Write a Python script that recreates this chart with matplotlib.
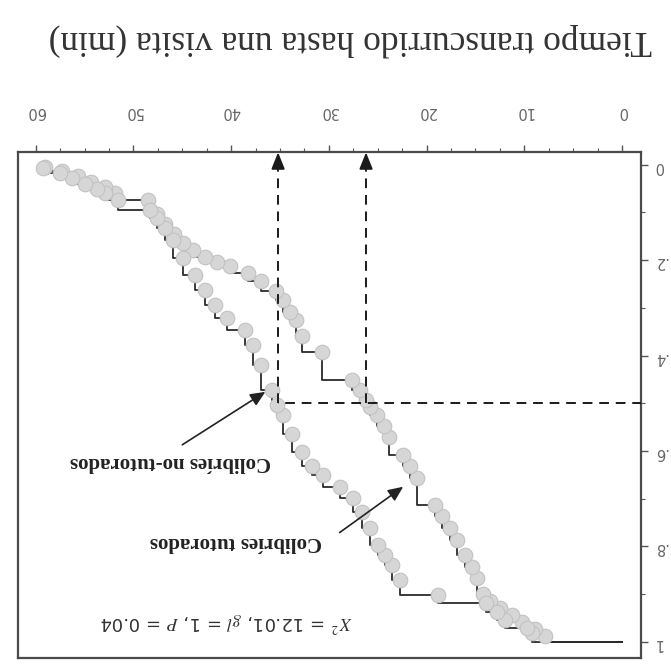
import matplotlib.pyplot as plt
from matplotlib.ticker import MultipleLocator

# Tiempo hasta la primera visita (min) y proporción que aún no visita
t_tut = [7.9, 8.9, 10.2, 11.3, 12.5, 13.5, 14.2, 14.8, 15.4, 16.1, 16.9, 17.6,
         18.4, 19.1, 21.0, 21.7, 22.4, 23.8, 24.4, 25.1, 25.8, 26.2, 26.8, 27.6,
         30.7, 32.8, 33.4, 34.0, 34.7, 35.4, 36.9, 38.3, 40.1, 41.5, 42.7, 43.9,
         44.9, 45.8, 46.8, 47.6, 48.5, 51.9, 52.9, 54.3, 55.7, 57.3, 59.1]
s_tut = [0.987, 0.973, 0.958, 0.943, 0.929, 0.914, 0.899, 0.866, 0.843, 0.818,
         0.786, 0.761, 0.736, 0.713, 0.656, 0.631, 0.608, 0.570, 0.547, 0.524,
         0.508, 0.493, 0.472, 0.451, 0.392, 0.358, 0.325, 0.308, 0.283, 0.264,
         0.243, 0.226, 0.212, 0.203, 0.193, 0.178, 0.164, 0.145, 0.124, 0.103,
         0.073, 0.059, 0.046, 0.036, 0.023, 0.013, 0.004]

t_no = [9.2, 9.7, 12.0, 12.8, 13.9, 18.8, 22.7, 23.5, 24.3, 25.0, 25.8, 26.6,
        27.5, 28.9, 30.6, 31.7, 32.8, 33.8, 34.7, 35.3, 35.8, 36.9, 37.8, 38.6,
        40.4, 41.7, 42.7, 43.7, 44.9, 46.0, 46.8, 47.6, 48.3, 51.6, 52.9, 53.7,
        55.0, 56.3, 57.5, 59.3]
s_no = [0.981, 0.971, 0.954, 0.937, 0.918, 0.901, 0.870, 0.839, 0.818, 0.797,
        0.761, 0.727, 0.698, 0.675, 0.650, 0.631, 0.602, 0.564, 0.524, 0.503,
        0.472, 0.419, 0.377, 0.346, 0.321, 0.294, 0.262, 0.231, 0.195, 0.157,
        0.132, 0.111, 0.094, 0.073, 0.059, 0.050, 0.040, 0.027, 0.017, 0.006]

# medianas (min)
med_tut = 26.2
med_no = 35.2

x_ticks = [0, 10, 20, 30, 40, 50, 60]
y_ticks = [0, 0.2, 0.4, 0.6, 0.8, 1.0]
y_ticklabels = ['0', '.2', '.4', '.6', '.8', '1']

plt.rcParams['mathtext.fontset'] = 'stix'

fig = plt.figure(figsize=(6.71, 6.66), dpi=100)
ax = fig.add_axes([0.027, 0.012, 0.9285, 0.76])

for t, s in [(t_tut, s_tut), (t_no, s_no)]:
    ax.step([0] + t, [1] + s, where='post', color='#2a2a2a', lw=1.3, zorder=2)
    ax.plot(t, s, 'o', ms=10.5, mfc='#d6d6d6', mec='#c2c2c2', mew=0.8, zorder=3)

# lineas de la mediana
ax.plot([-2, med_no], [0.5, 0.5], color='#1a1a1a', lw=1.4, ls=(0, (5, 3.5)), zorder=4)
for m in [med_tut, med_no]:
    ax.plot([m, m], [0.5, 0.0], color='#1a1a1a', lw=1.4, ls=(0, (5, 3.5)), zorder=4)
    ax.annotate('', xy=(m, -0.026), xytext=(m, 0.0),
                arrowprops=dict(arrowstyle='-|>,head_length=1.0,head_width=0.4',
                                color='#1a1a1a', lw=1.4, shrinkA=0, shrinkB=0),
                zorder=4)

# etiquetas de las curvas
ax.text(39.5, 0.79, 'Colibríes tutorados', rotation=180, ha='center', va='center',
        family='Liberation Serif', fontweight='bold', fontsize=15, color='#222')
ax.annotate('', xy=(22.4, 0.675), xytext=(28.9, 0.771),
            arrowprops=dict(arrowstyle='-|>,head_length=0.9,head_width=0.4',
                            color='#222', lw=1.2, shrinkA=0, shrinkB=0), zorder=5)
ax.text(46.2, 0.623, 'Colibríes no-tutorados', rotation=180, ha='center', va='center',
        family='Liberation Serif', fontweight='bold', fontsize=15, color='#222')
ax.annotate('', xy=(36.5, 0.476), xytext=(45.0, 0.587),
            arrowprops=dict(arrowstyle='-|>,head_length=0.9,head_width=0.4',
                            color='#222', lw=1.2, shrinkA=0, shrinkB=0), zorder=5)

ax.text(40.5, 0.958, r'$X^2$ = 12.01, $gl$ = 1, $P$ = 0.04', rotation=180,
        ha='center', va='center', fontsize=13, color='#333')

ax.set_xlim(61.8, -1.95)
ax.set_ylim(1.034, -0.027)

ax.xaxis.set_ticks_position('top')
ax.yaxis.set_ticks_position('right')
ax.set_xticks(x_ticks)
ax.set_yticks(y_ticks)
ax.set_yticklabels(y_ticklabels)
ax.xaxis.set_minor_locator(MultipleLocator(2.5))
ax.yaxis.set_minor_locator(MultipleLocator(0.1))
ax.tick_params(axis='x', which='both', direction='out', colors='#555', labelcolor='#666',
               labelsize=10.5, labelrotation=180, pad=19)
ax.tick_params(axis='y', which='both', direction='out', colors='#555', labelcolor='#666',
               labelsize=10.5, labelrotation=180, pad=4)
ax.tick_params(which='major', length=5, width=1)
ax.tick_params(which='minor', length=3, width=0.8)

for sp in ax.spines.values():
    sp.set_color('#4a4a4a')
    sp.set_linewidth(1.6)

fig.text(350 / 671, 1 - 40 / 666, 'Tiempo transcurrido hasta una visita (min)',
         rotation=180, ha='center', va='center', family='Liberation Serif',
         fontsize=25.5, color='#333')

fig.savefig('out.png', dpi=100, facecolor='white')
